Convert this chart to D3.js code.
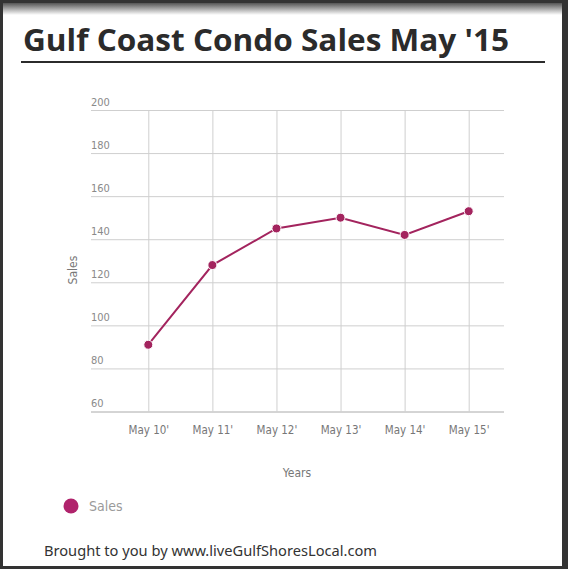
<!DOCTYPE html>
<html>
<head>
<meta charset="utf-8">
<script src="https://cdn.jsdelivr.net/npm/d3@7"></script>
<style>
  html, body { margin: 0; padding: 0; background: #333; }
  svg { display: block; }
</style>
</head>
<body>
<svg id="chart"></svg>
<script>
// chart data
var months = ["May 10'", "May 11'", "May 12'", "May 13'", "May 14'", "May 15'"];
var sales = [91, 128, 145, 150, 142, 153];
var yTicks = [60, 80, 100, 120, 140, 160, 180, 200];
var seriesName = "Sales";

(function () {
    var width = 568, height = 569;
    var lineColor = "#a3245e";
    var narrow = "'Liberation Sans Narrow', 'DejaVu Sans Condensed', sans-serif";

    var svg = d3.select("svg#chart").attr("width", width).attr("height", height);

    // page card with dark frame and top shadow
    var defs = svg.append("defs");
    var grad = defs.append("linearGradient").attr("id", "topShade").attr("x1", 0).attr("y1", 0).attr("x2", 0).attr("y2", 1);
    grad.append("stop").attr("offset", "0%").attr("stop-color", "#555");
    grad.append("stop").attr("offset", "100%").attr("stop-color", "#fff");
    svg.append("rect").attr("x", 0).attr("y", 0).attr("width", width).attr("height", height).attr("fill", "#333");
    svg.append("rect").attr("x", 3).attr("y", 3).attr("width", 559).attr("height", 563).attr("fill", "#fff");
    svg.append("rect").attr("x", 3).attr("y", 3).attr("width", 559).attr("height", 12).attr("fill", "url(#topShade)");

    // title
    svg.append("text")
        .attr("x", 23).attr("y", 51)
        .attr("font-family", "'Open Sans', 'Noto Sans', sans-serif")
        .attr("font-weight", "bold")
        .attr("font-size", 31)
        .attr("fill", "#2b2b2b")
        .attr("textLength", 486)
        .attr("lengthAdjust", "spacingAndGlyphs")
        .text("Gulf Coast Condo Sales May '15");
    svg.append("rect").attr("x", 21).attr("y", 61).attr("width", 524).attr("height", 2).attr("fill", "#2b2b2b");

    // plot area
    var plotLeft = 91, plotRight = 504, plotTop = 110, plotBottom = 411.5;
    var x = d3.scalePoint().domain(months).range([148.3, 468.7]);
    var y = d3.scaleLinear().domain([60, 200]).range([plotBottom, plotTop]);

    var g = svg.append("g");

    // horizontal grid + tick labels
    var yAxis = d3.axisLeft(y).tickValues(yTicks).tickSize(-(plotRight - plotLeft)).tickFormat(d3.format("d"));
    var yg = g.append("g").attr("transform", "translate(" + plotLeft + ",0)").call(yAxis);
    yg.select(".domain").remove();
    yg.selectAll(".tick line").attr("stroke-width", 1)
        .attr("stroke", function (d) { return d === 60 ? "#aaa" : "#cfcfcf"; });
    yg.selectAll(".tick text")
        .attr("x", 0).attr("dy", "-0.45em")
        .attr("text-anchor", "start")
        .attr("font-family", narrow).attr("font-size", 11)
        .attr("fill", "#8a8a8a");

    // vertical grid + month labels
    var xAxis = d3.axisBottom(x).tickSize(-(plotBottom - plotTop)).tickPadding(14);
    var xg = g.append("g").attr("transform", "translate(0," + plotBottom + ")").call(xAxis);
    xg.select(".domain").remove();
    xg.selectAll(".tick line").attr("stroke", "#cfcfcf").attr("stroke-width", 1);
    xg.selectAll(".tick text")
        .attr("font-family", narrow).attr("font-size", 11.5)
        .attr("fill", "#777");

    // axis titles
    svg.append("text")
        .attr("transform", "translate(77,270) rotate(-90)")
        .attr("text-anchor", "middle")
        .attr("font-family", narrow).attr("font-size", 12)
        .attr("fill", "#777")
        .text("Sales");
    svg.append("text")
        .attr("x", 297).attr("y", 477)
        .attr("text-anchor", "middle")
        .attr("font-family", narrow).attr("font-size", 12)
        .attr("fill", "#777")
        .text("Years");

    // series line
    var line = d3.line()
        .x(function (d, i) { return x(months[i]); })
        .y(function (d) { return y(d); });
    g.append("path").datum(sales)
        .attr("d", line)
        .attr("fill", "none")
        .attr("stroke", lineColor)
        .attr("stroke-width", 2);
    g.selectAll("circle.pt").data(sales).enter().append("circle")
        .attr("class", "pt")
        .attr("cx", function (d, i) { return x(months[i]); })
        .attr("cy", function (d) { return y(d); })
        .attr("r", 4.5)
        .attr("fill", lineColor)
        .attr("stroke", "#fff")
        .attr("stroke-width", 1);

    // legend
    svg.append("circle").attr("cx", 71).attr("cy", 506).attr("r", 7.5).attr("fill", "#b0236c");
    svg.append("text")
        .attr("x", 89).attr("y", 511)
        .attr("font-family", narrow).attr("font-size", 14)
        .attr("fill", "#9a9a9a")
        .text(seriesName);

    // footer
    svg.append("text")
        .attr("x", 44).attr("y", 556)
        .attr("font-family", "'Noto Sans', 'Open Sans', sans-serif")
        .attr("font-size", 14.5)
        .attr("fill", "#333")
        .attr("textLength", 333)
        .attr("lengthAdjust", "spacingAndGlyphs")
        .text("Brought to you by www.liveGulfShoresLocal.com");
})();
</script>
</body>
</html>
